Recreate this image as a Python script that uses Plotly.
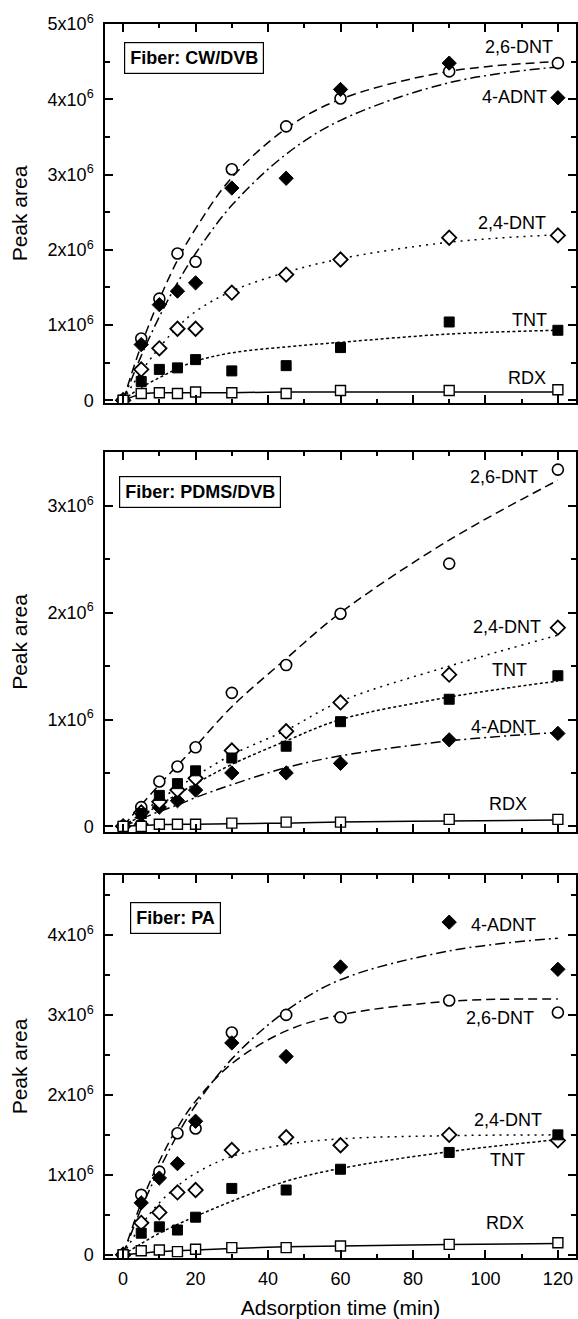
import numpy as np
import plotly.graph_objects as go

# ---------------- data (peak area in units of 1e6) ----------------
TIME = [0, 5, 10, 15, 20, 30, 45, 60, 90, 120]
SERIES = ["2,6-DNT", "4-ADNT", "2,4-DNT", "TNT", "RDX"]
FIBERS = ["CW/DVB", "PDMS/DVB", "PA"]

# measured points
cw_26dnt = [0, 0.82, 1.35, 1.95, 1.84, 3.07, 3.64, 4.01, 4.37, 4.48]
cw_4adnt = [0, 0.74, 1.27, 1.45, 1.56, 2.82, 2.95, 4.13, 4.48, 4.02]
cw_24dnt = [0, 0.41, 0.69, 0.95, 0.95, 1.43, 1.67, 1.87, 2.16, 2.19]
cw_tnt = [0, 0.25, 0.41, 0.43, 0.54, 0.39, 0.46, 0.70, 1.04, 0.93]
cw_rdx = [0, 0.09, 0.10, 0.09, 0.11, 0.10, 0.09, 0.13, 0.13, 0.14]

pd_26dnt = [0, 0.18, 0.42, 0.56, 0.74, 1.25, 1.51, 1.99, 2.46, 3.34]
pd_4adnt = [0, 0.02, 0.18, 0.24, 0.34, 0.50, 0.50, 0.59, 0.81, 0.87]
pd_24dnt = [0, 0.13, 0.23, 0.34, 0.45, 0.71, 0.89, 1.16, 1.42, 1.86]
pd_tnt = [0, 0.12, 0.29, 0.40, 0.52, 0.64, 0.75, 0.98, 1.19, 1.41]
pd_rdx = [0, 0.0, 0.02, 0.02, 0.02, 0.03, 0.04, 0.04, 0.065, 0.065]

pa_26dnt = [0, 0.75, 1.04, 1.52, 1.58, 2.78, 3.00, 2.97, 3.18, 3.03]
pa_4adnt = [0, 0.65, 0.96, 1.14, 1.67, 2.65, 2.48, 3.60, 4.16, 3.57]
pa_24dnt = [0, 0.40, 0.53, 0.78, 0.81, 1.31, 1.47, 1.37, 1.50, 1.43]
pa_tnt = [0, 0.27, 0.35, 0.31, 0.47, 0.83, 0.81, 1.07, 1.28, 1.50]
pa_rdx = [0, 0.05, 0.06, 0.04, 0.07, 0.09, 0.09, 0.11, 0.13, 0.15]

# fitted curves at the same times
cw_26dnt_fit = [0, 0.73, 1.34, 1.86, 2.28, 2.96, 3.61, 4.00, 4.37, 4.50]
cw_4adnt_fit = [0, 0.59, 1.11, 1.56, 1.95, 2.59, 3.27, 3.72, 4.22, 4.43]
cw_24dnt_fit = [0, 0.38, 0.70, 0.97, 1.18, 1.45, 1.70, 1.88, 2.10, 2.20]
cw_tnt_fit = [0, 0.17, 0.30, 0.42, 0.52, 0.63, 0.71, 0.77, 0.88, 0.93]
cw_rdx_fit = [0, 0.08, 0.10, 0.10, 0.10, 0.10, 0.11, 0.11, 0.11, 0.11]

pd_26dnt_fit = [0, 0.20, 0.39, 0.57, 0.75, 1.12, 1.57, 2.00, 2.68, 3.24]
pd_4adnt_fit = [0, 0.07, 0.14, 0.20, 0.27, 0.39, 0.55, 0.66, 0.80, 0.88]
pd_24dnt_fit = [0, 0.12, 0.25, 0.36, 0.47, 0.67, 0.90, 1.17, 1.50, 1.79]
pd_tnt_fit = [0, 0.10, 0.20, 0.30, 0.40, 0.58, 0.80, 1.00, 1.21, 1.36]
pd_rdx_fit = [0, 0.01, 0.015, 0.02, 0.02, 0.025, 0.03, 0.04, 0.05, 0.06]

pa_26dnt_fit = [0, 0.65, 1.17, 1.59, 1.92, 2.39, 2.80, 3.00, 3.17, 3.20]
pa_4adnt_fit = [0, 0.58, 1.07, 1.50, 1.87, 2.45, 3.05, 3.44, 3.80, 3.96]
pa_24dnt_fit = [0, 0.37, 0.65, 0.86, 1.02, 1.23, 1.38, 1.45, 1.49, 1.50]
pa_tnt_fit = [0, 0.14, 0.27, 0.38, 0.48, 0.67, 0.92, 1.08, 1.29, 1.44]
pa_rdx_fit = [0, 0.02, 0.04, 0.05, 0.06, 0.08, 0.10, 0.11, 0.13, 0.14]

points = [
    [cw_26dnt, cw_4adnt, cw_24dnt, cw_tnt, cw_rdx],
    [pd_26dnt, pd_4adnt, pd_24dnt, pd_tnt, pd_rdx],
    [pa_26dnt, pa_4adnt, pa_24dnt, pa_tnt, pa_rdx],
]
fits = [
    [cw_26dnt_fit, cw_4adnt_fit, cw_24dnt_fit, cw_tnt_fit, cw_rdx_fit],
    [pd_26dnt_fit, pd_4adnt_fit, pd_24dnt_fit, pd_tnt_fit, pd_rdx_fit],
    [pa_26dnt_fit, pa_4adnt_fit, pa_24dnt_fit, pa_tnt_fit, pa_rdx_fit],
]

# label positions (time, value in 1e6) per panel, order as SERIES
label_pos = [
    [(109.3, 4.69), (107.9, 4.03), (107.4, 2.35), (112.3, 1.06), (111.6, 0.29)],
    [(105.0, 3.27), (105.0, 0.93), (105.9, 1.87), (106.6, 1.46), (106.1, 0.21)],
    [(104.0, 2.96), (105.1, 4.125), (106.3, 1.69), (106.0, 1.19), (105.5, 0.40)],
]
y_max_tick = [5, 3, 4]
y_ranges = [(-0.036, 5.0), (-0.053, 3.505), (-0.04, 4.75)]
box_pos = [(0.0403, 0.9525), (0.0304, 0.9368), (0.0531, 0.9295)]

# ---------------- styles ----------------
FONT = "Liberation Sans, Arial, Helvetica, sans-serif"
dashes = ["9px,5px", "10px,4px,2px,4px", "2px,5px", "3px,2.5px", "solid"]
markers = [
    dict(symbol="circle", size=11, color="white", line=dict(color="black", width=1.6)),
    dict(symbol="diamond", size=11, color="black", line=dict(color="black", width=1)),
    dict(symbol="diamond", size=11, color="white", line=dict(color="black", width=1.8)),
    dict(symbol="square", size=10, color="black", line=dict(color="black", width=1)),
    dict(symbol="square", size=10, color="white", line=dict(color="black", width=1.4)),
]
domains = [(0.6929, 1.0), (0.3452, 0.6532), (0.0, 0.3104)]

fig = go.Figure()
SCALE = 1e6
t = np.array(TIME)

for p in range(3):
    xa = "x" if p == 0 else f"x{p+1}"
    ya = "y" if p == 0 else f"y{p+1}"
    for s in range(5):
        fig.add_trace(go.Scatter(
            x=t, y=np.array(fits[p][s]) * SCALE, mode="lines",
            line=dict(color="black", width=1.5, dash=dashes[s], shape="spline", smoothing=1.0),
            xaxis=xa, yaxis=ya, hoverinfo="skip"))
    for s in range(5):
        fig.add_trace(go.Scatter(
            x=t, y=np.array(points[p][s]) * SCALE, mode="markers",
            marker=markers[s], name=SERIES[s], xaxis=xa, yaxis=ya))

    axis_common = dict(
        showline=True, linecolor="black", linewidth=1.5, mirror="allticks",
        ticks="inside", ticklen=8, tickwidth=1.5, tickcolor="black",
        showgrid=False, zeroline=False, automargin=False,
        tickfont=dict(family=FONT, size=18, color="black"),
    )
    xkey = "xaxis" if p == 0 else f"xaxis{p+1}"
    ykey = "yaxis" if p == 0 else f"yaxis{p+1}"
    xaxis = dict(axis_common, domain=[0, 1], range=[-5, 125], tickmode="linear", tick0=0, dtick=20,
                 minor=dict(ticks="inside", ticklen=4, tickwidth=1.5, tickcolor="black", dtick=10, tick0=0),
                 anchor=ya, showticklabels=(p == 2), ticklabelstandoff=4)
    if p == 2:
        xaxis["title"] = dict(text="Adsorption time (min)", font=dict(family=FONT, size=21, color="black"), standoff=14)
    tickvals = [k * SCALE for k in range(y_max_tick[p] + 1)]
    ticktext = ["0"] + [f"{k}x10<sup>6</sup>" for k in range(1, y_max_tick[p] + 1)]
    yaxis = dict(axis_common, domain=list(domains[p]), anchor=xa,
                 range=[y_ranges[p][0] * SCALE, y_ranges[p][1] * SCALE],
                 tickmode="array", tickvals=tickvals, ticktext=ticktext,
                 minor=dict(ticks="inside", ticklen=5, tickwidth=1.5, tickcolor="black",
                            tickmode="linear", tick0=0, dtick=0.5 * SCALE),
                 ticklabelstandoff=6,
                 title=dict(text="Peak area", font=dict(family=FONT, size=21, color="black"), standoff=14))
    fig.layout[xkey] = xaxis
    fig.layout[ykey] = yaxis

    # fiber box
    fig.add_annotation(
        xref=f"{xa} domain", yref=f"{ya} domain", x=box_pos[p][0], y=box_pos[p][1],
        xanchor="left", yanchor="top", showarrow=False,
        text=f"<b>Fiber: {FIBERS[p]}</b>", font=dict(family=FONT, size=18, color="black"),
        bordercolor="black", borderwidth=1.2, borderpad=5, bgcolor="white")
    # series labels
    for s in range(5):
        lx, ly = label_pos[p][s]
        fig.add_annotation(
            xref=xa, yref=ya, x=lx, y=ly * SCALE, showarrow=False, xanchor="center", yanchor="middle",
            text=SERIES[s], font=dict(family=FONT, size=18, color="black"))

fig.update_layout(
    width=578, height=1319,
    margin=dict(l=105, r=2, t=24, b=61),
    plot_bgcolor="white", paper_bgcolor="white",
    showlegend=False,
)

fig.write_html(
    "out.html",
    config={"displayModeBar": False},
    post_script="document.body.style.margin='0px';document.body.style.padding='0px';"
                "document.documentElement.style.overflow='hidden';",
)
